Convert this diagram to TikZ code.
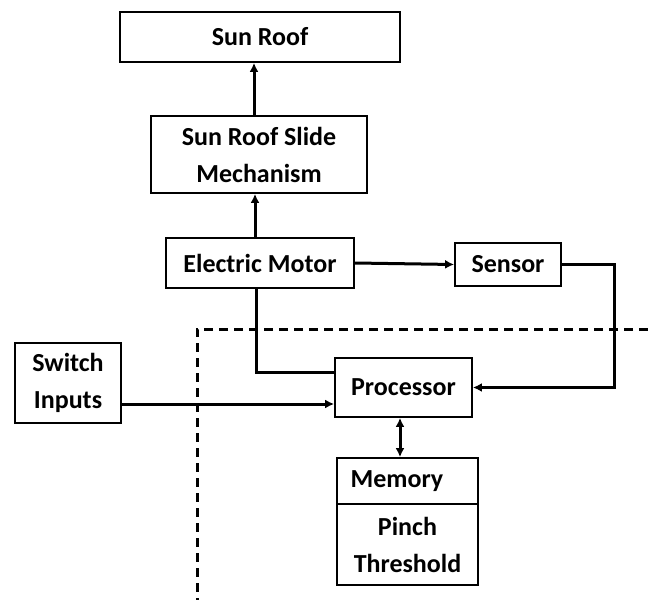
\documentclass[tikz,border=0pt]{standalone}
\usepackage{fontspec}
\setmainfont{Carlito}
\usetikzlibrary{arrows.meta,calc}
\begin{document}
\begin{tikzpicture}[x=1pt,y=-1pt,
  txt/.style={font=\fontsize{26}{37}\selectfont\bfseries},
  box/.style={draw,line width=1.8pt,inner sep=0pt,align=center,txt},
  conn/.style={line width=3pt},
  arr/.style={conn,-{Latex[length=9pt,width=9pt]}},
  darr/.style={conn,{Latex[length=9pt,width=9pt]}-{Latex[length=9pt,width=9pt]}},
  dashline/.style={line width=3pt,dash pattern=on 9pt off 6pt}]
\useasboundingbox (0,0) rectangle (648,604);
\node[box,minimum width=280pt,minimum height=50pt] (sunroof) at (260,37) {Sun Roof};
\node[box,minimum width=216pt,minimum height=77pt] (slide) at (259,154.5) {Sun Roof Slide\\Mechanism};
\node[box,minimum width=188pt,minimum height=50pt] (motor) at (260,263) {Electric Motor};
\node[box,minimum width=106pt,minimum height=43pt] (sensor) at (508,264.5) {Sensor};
\node[box,minimum width=106pt,minimum height=80pt] (switch) at (68,383) {Switch\\Inputs};
\node[box,minimum width=137pt,minimum height=59pt] (proc) at (403.5,387.5) {Processor};
\node[box,minimum width=141pt,minimum height=46pt] (mem) at (407.5,481) {};
\node[box,minimum width=141pt,minimum height=81pt] (pinch) at (407.5,544.5) {Pinch\\Threshold};
\node[txt,inner sep=0pt] (memtxt) at (397,481) {Memory};
\coordinate (c1) at (614,264.5);
\coordinate (c2) at (256,372);
\coordinate (d1) at (197,329);
\coordinate (d2) at (648,329);
\coordinate (d3) at (197,600);
% dashed boundary
\draw[dashline] (d2) -- (d1) -- (d3);
% connectors
\draw[arr] (slide.north -| 254,0) -- (sunroof.south -| 254,0);
\draw[arr] (motor.north -| 255,0) -- (slide.south -| 255,0);
\draw[arr] (motor.east) -- (sensor.west);
\draw[arr] (sensor.east) -- (c1) |- (proc.east);
\draw[conn] (motor.south -| c2) -- (c2) -- (c2 -| proc.west);
\draw[arr] (switch.east |- 0,404) -- (proc.west |- 0,404);
\draw[darr] (proc.south -| 400,0) -- (mem.north -| 400,0);
\end{tikzpicture}
\end{document}
